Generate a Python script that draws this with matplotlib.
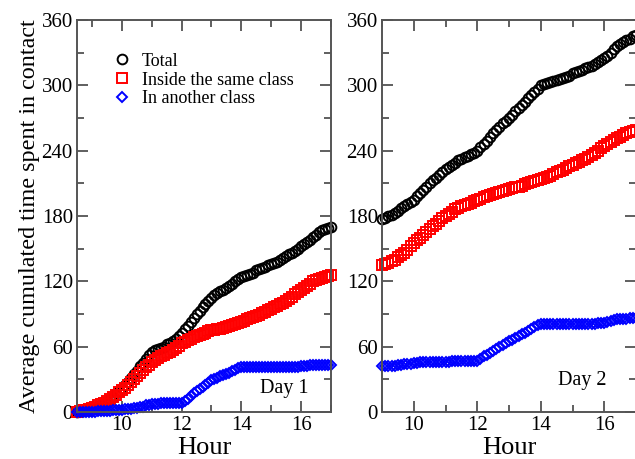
import numpy as np
import matplotlib
matplotlib.use("Agg")
import matplotlib.pyplot as plt
from matplotlib.ticker import MultipleLocator

plt.rcParams['font.family'] = ['Liberation Serif', 'DejaVu Serif']

# time grid (hours), one sample every 6 minutes
hours1 = np.linspace(8.5, 17.0, 86)
hours2 = np.linspace(9.0, 17.0, 81)

# Day 1
total1 = [0, 0.5, 1, 1.5, 2, 3,
          4, 5, 6.5, 8, 10,
          12, 14, 17, 19, 22,
          25, 28, 31, 35, 38,
          42, 45, 49, 52, 55,
          57, 58, 59, 60, 62,
          63, 65, 67, 70, 73,
          76, 79, 83, 86, 90,
          93, 96, 99, 102, 105,
          107, 109, 111, 112, 114,
          116, 118, 120, 122, 124,
          125, 126, 127, 128, 130,
          131, 132, 133, 135, 136,
          137, 138, 140, 141, 143,
          145, 146, 148, 150, 152,
          154, 156, 158, 161, 163,
          165, 167, 168, 169, 170]
same1 = [0, 1, 1.5, 2, 3, 4,
         5, 6, 7, 8.5, 10,
         12, 13.5, 15.5, 18, 20,
         22.5, 25, 27.5, 30, 33,
         36, 38.5, 41, 43.5, 46,
         48, 49.5, 51, 52.5, 54,
         55.5, 57, 59, 61, 63,
         64.5, 66, 67, 68.5, 70,
         71, 72, 73, 74, 75,
         75.5, 76, 76.5, 77, 78,
         79, 80, 81, 82, 83,
         84, 85, 86, 87, 88,
         89, 90.5, 92, 93.5, 95,
         96, 97.5, 99, 100.5, 102,
         104, 106, 108, 110, 112,
         114, 116, 118, 120, 121,
         122, 123, 124, 125, 126]
other1 = [0, 0, 0, 0, 0, 0,
          0, 0.5, 0.5, 1, 1,
          1, 1.5, 1.5, 2, 2,
          2.5, 3, 3, 3.5, 4,
          4.5, 5, 6, 6.5, 7,
          7.5, 7.5, 8, 8, 8,
          8, 8, 8, 8, 8,
          10, 12, 14.5, 17, 19,
          21, 23, 25, 27, 29,
          30.5, 31.5, 33, 34, 35,
          36, 37.5, 38.5, 40, 41,
          41, 41, 41, 41, 41,
          41, 41, 41, 41, 41,
          41, 41, 41, 41, 41,
          41, 41, 41, 41.5, 42,
          42, 42.5, 43, 43, 43,
          43, 43, 43, 43, 43]

# Day 2
total2 = [177,
          178, 180, 181, 183, 185,
          187, 189, 191, 193, 195,
          198, 201, 204, 207, 210,
          213, 215, 218, 220, 223,
          225, 227, 229, 231, 232,
          234, 235, 237, 238, 240,
          243, 246, 249, 253, 256,
          259, 262, 265, 267, 270,
          273, 276, 279, 282, 285,
          288, 291, 294, 297, 300,
          301, 302, 303, 304, 305,
          306, 307, 308, 309, 311,
          312, 313, 314, 316, 317,
          318, 320, 321, 323, 325,
          327, 330, 333, 336, 338,
          340, 342, 343, 345, 346]
same2 = [135,
         136, 137, 139, 140, 142,
         144, 146, 149, 152, 155,
         158, 160, 163, 165, 168,
         171, 173, 175, 178, 180,
         182, 184, 186, 187, 189,
         190, 191, 192, 194, 195,
         196, 197, 198, 199, 200,
         201, 202, 203, 204, 205,
         206, 206.5, 207, 208, 209,
         210, 211, 212, 213, 214,
         215, 216, 217, 218.5, 220,
         221, 222.5, 224, 225.5, 227,
         228.5, 230, 231, 232.5, 234,
         236, 238, 240, 242, 244,
         246, 248, 250, 251.5, 253,
         254.5, 256, 257, 258, 259]
other2 = [42,
          42, 42, 42.5, 42.5, 43,
          43.5, 44, 44, 44.5, 45,
          45, 45.5, 45.5, 46, 46,
          46, 46, 46, 46, 46,
          46, 46.5, 46.5, 46.5, 47,
          47, 47, 47, 47, 47,
          49, 51, 52.5, 54.5, 56,
          58, 60, 61.5, 63.5, 65,
          66.5, 68, 70, 71.5, 73,
          74.5, 76, 78, 79.5, 81,
          81, 81, 81, 81, 81,
          81, 81, 81, 81, 81,
          81, 81, 81, 81, 81,
          81, 81, 81.5, 81.5, 82,
          83, 84, 84.5, 85, 85,
          85.5, 85.5, 86, 86, 86]

labels = ['Total', 'Inside the same class', 'In another class']

fig = plt.figure(figsize=(6.35, 4.59), dpi=100)
ax1 = fig.add_axes([77/635, 47/459, 254/635, 392/459])
ax2 = fig.add_axes([382/635, 47/459, 254/635, 392/459])

def draw(ax, h, tot, same, oth, xlim, daytext, dpos):
    ax.plot(h, tot, 'o', mfc='none', mec='black', ms=7, mew=1.4, clip_on=False, label=labels[0])
    ax.plot(h, same, 's', mfc='none', mec='red', ms=6.5, mew=1.4, clip_on=False, label=labels[1])
    ax.plot(h, oth, 'D', mfc='none', mec='blue', ms=5.3, mew=1.4, clip_on=False, label=labels[2])
    ax.set_xlim(*xlim)
    ax.set_ylim(0, 360)
    ax.xaxis.set_major_locator(MultipleLocator(2))
    ax.xaxis.set_minor_locator(MultipleLocator(1))
    ax.yaxis.set_major_locator(MultipleLocator(60))
    ax.yaxis.set_minor_locator(MultipleLocator(30))
    ax.tick_params(which='both', direction='in', top=True, right=True,
                   labelsize=15, width=1.2, color='#444444', pad=3)
    ax.tick_params(which='major', length=8)
    ax.tick_params(which='minor', length=5)
    for s in ax.spines.values():
        s.set_linewidth(1.4)
        s.set_color('#555555')
    ax.set_xlabel('Hour', fontsize=19, labelpad=1)
    ax.text(dpos[0], dpos[1], daytext, transform=ax.transAxes, fontsize=14.5,
            ha='center', va='center')

draw(ax1, hours1, total1, same1, other1, (8.5, 17.0), 'Day 1', (0.815, 0.06))
draw(ax2, hours2, total2, same2, other2, (9.0, 17.0), 'Day 2', (0.79, 0.08))

ax1.set_ylabel('Average cumulated time spent in contact', fontsize=17.4, labelpad=1)
ax1.legend(loc='upper left', bbox_to_anchor=(0.12, 0.935), frameon=False,
           fontsize=13, handlelength=0.8, handletextpad=0.7, labelspacing=0.1,
           borderaxespad=0)

fig.savefig('out.png', dpi=100)
